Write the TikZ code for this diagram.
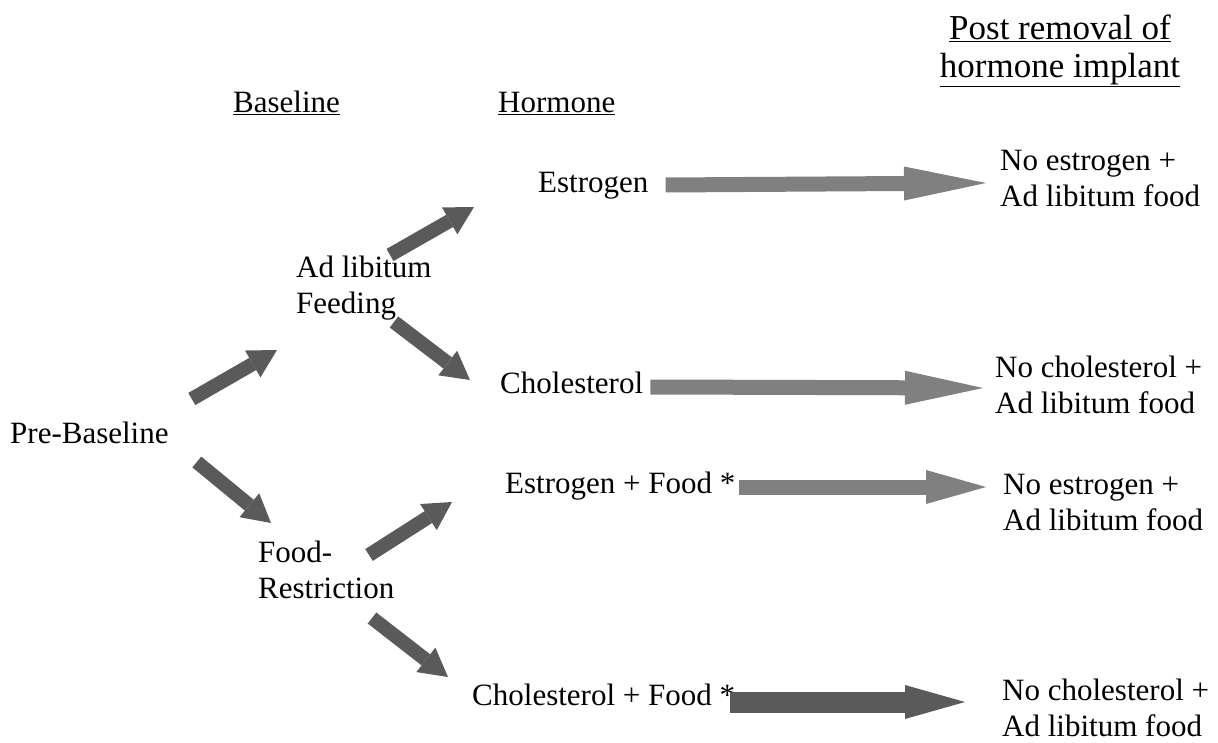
\documentclass[tikz,border=0pt]{standalone}
\usepackage{fontspec}
\setmainfont{Liberation Serif}
\usetikzlibrary{arrows.meta}
\definecolor{slantgray}{RGB}{90,90,90}
\definecolor{flatgray}{RGB}{128,128,128}
\begin{document}
\begin{tikzpicture}[x=1pt, y=-1pt,
  every node/.style={font=\fontsize{31}{36}\selectfont, inner sep=0pt},
  twoline/.style={align=left, anchor=north west},
  slant/.style={draw=slantgray, line width=14pt, -{Triangle[length=28pt, width=31pt, line width=0pt]}},
  flat/.style={draw=flatgray, line width=15pt, -{Triangle[length=#1, width=34pt, line width=0pt]}},
  flat/.default=80pt]
  \useasboundingbox (0,0) rectangle (1218,743);

  % 1. column headers
  \node[anchor=base west] (base) at (233,113) {\underline{Baseline}};
  \node[anchor=base west] (horm) at (498,113) {\underline{Hormone}};
  \node[align=center, anchor=north, font=\fontsize{35}{38}\selectfont] (post) at (1060,15) {\underline{Post removal of}\\\underline{hormone implant}};

  % 2. groups
  \node[anchor=base west] (pre) at (10,443) {Pre-Baseline};
  \node[twoline] (adlib) at (296,256) {Ad libitum\\Feeding};
  \node[twoline] (foodr) at (258,541) {Food-\\Restriction};

  \node[anchor=base west] (estr) at (538,193) {Estrogen};
  \node[anchor=base west] (chol) at (500,393) {Cholesterol};
  \node[anchor=base west] (estrf) at (505,493) {Estrogen + Food *};
  \node[anchor=base west] (cholf) at (472,705) {Cholesterol + Food *};

  \node[twoline] (noestr1) at (1000,150) {No estrogen +\\Ad libitum food};
  \node[twoline] (nochol1) at (995,356) {No cholesterol +\\Ad libitum food};
  \node[twoline] (noestr2) at (1003,474) {No estrogen +\\Ad libitum food};
  \node[twoline] (nochol2) at (1002,679) {No cholesterol +\\Ad libitum food};

  % 3. slanted arrows
  \draw[slant] ([shift={(23,-44)}]pre.base east) -- ([shift={(-19,94)}]adlib.north west);
  \draw[slant] ([shift={(28,19)}]pre.base east) -- ([shift={(13,-18)}]foodr.north west);
  \draw[slant] ([shift={(94,-1)}]adlib.north west) -- ([shift={(-64,14)}]estr.base west);
  \draw[slant] ([shift={(98,66)}]adlib.north west) -- ([shift={(-30,-13)}]chol.base west);
  \draw[slant] ([shift={(111,14)}]foodr.north west) -- ([shift={(-53,9)}]estrf.base west);
  \draw[slant] ([shift={(114,77)}]foodr.north west) -- ([shift={(-24,-28)}]cholf.base west);

  % 4. long arrows to the post removal phase
  \draw[flat=82pt] ([shift={(17,-8)}]estr.base east) -- ([shift={(-14,33)}]noestr1.north west);
  \draw[flat=78pt] ([shift={(7,-6)}]chol.base east) -- ([shift={(-12,32)}]nochol1.north west);
  \draw[flat=60pt] ([shift={(3,-6)}]estrf.base east) -- ([shift={(-17,13)}]noestr2.north west);
  \draw[flat=60pt, line width=21pt, draw=slantgray] ([shift={(-5,-3)}]cholf.base east) -- ([shift={(-37,23)}]nochol2.north west);
\end{tikzpicture}
\end{document}
